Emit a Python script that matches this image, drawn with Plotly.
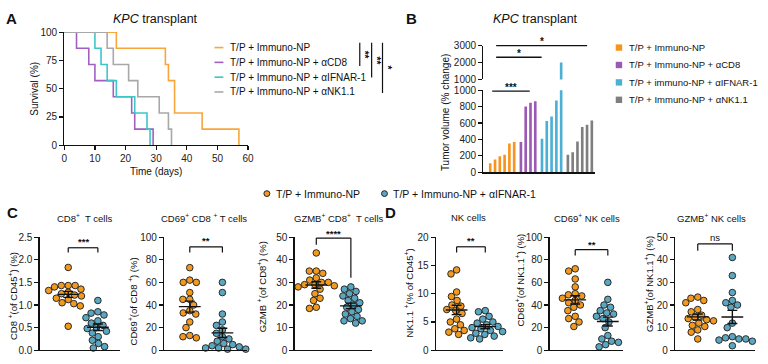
import numpy as np
import plotly.graph_objects as go

W, H = 768, 364
FONT = "Liberation Sans, Arial, Helvetica, sans-serif"

# ---------------- Panel A: survival (death times in days, n = 7 per group)
a_labels = ["T/P + Immuno-NP", "T/P + Immuno-NP + αCD8",
            "T/P + Immuno-NP + αIFNAR-1", "T/P + Immuno-NP + αNK1.1"]
a_death_orange = [17, 33, 34, 36, 36, 45, 57]
a_death_purple = [4, 8, 10, 16, 22, 23, 29]
a_death_cyan = [10, 12, 14, 17, 23, 27, 28]
a_death_gray = [14, 16, 21, 24, 31, 34, 35]
a_xticks = [0, 10, 20, 30, 40, 50, 60]
a_yticks = [0, 25, 50, 75, 100]
a_colors = ["#F9A53B", "#A25FC2", "#3DC6C6", "#A8A8A8"]

# ---------------- Panel B: tumour volume (% change)
b_labels = ["T/P + Immuno-NP", "T/P + Immuno-NP + αCD8",
            "T/P + immuno-NP + αIFNAR-1", "T/P + Immuno-NP + αNK1.1"]
b_orange = [110, 155, 195, 215, 350, 370]
b_purple = [370, 800, 845, 865]
b_blue = [410, 625, 680, 875, 2000]
b_gray = [215, 245, 375, 550, 580, 630]
b_low_ticks = [0, 200, 400, 600, 800, 1000]
b_up_ticks = [1000, 2000, 3000]
b_colors = ["#F7941D", "#9B59B6", "#4BB0D4", "#7F7F7F"]

# ---------------- Panels C / D: dot plots
sc_labels = ["T/P + Immuno-NP", "T/P + Immuno-NP + αIFNAR-1"]
cd8_orange = [1.83, 1.43, 1.43, 1.43, 1.40, 1.35, 1.32, 1.28, 1.25, 1.22, 1.20, 1.15, 1.12, 1.05, 1.03, 0.98, 0.53]
cd8_blue = [1.10, 0.85, 0.82, 0.78, 0.72, 0.65, 0.60, 0.55, 0.50, 0.48, 0.42, 0.38, 0.30, 0.22, 0.15, 0.08, 0.05]
cd69cd8_orange = [73, 62, 60, 60, 51, 45, 45, 40, 35, 33, 32, 25, 20, 13, 12, 11]
cd69cd8_blue = [60, 51, 32, 25, 22, 18, 15, 12, 10, 8, 6, 5, 4, 3, 2, 2, 1, 1]
gzmbcd8_orange = [43, 35, 35, 34, 32, 31, 30, 30, 29, 29, 28.5, 28, 27, 25, 23, 22, 19, 18.5]
gzmbcd8_blue = [28, 27, 26, 25, 24, 23, 22, 21, 20, 19, 18, 17, 16, 15, 14, 13, 13, 12]
nk_orange = [14.2, 13.5, 10.3, 9.5, 8.8, 8.0, 7.8, 7.2, 7.0, 6.5, 5.5, 5.0, 4.5, 3.8, 3.5, 3.2, 2.8]
nk_blue = [7.0, 6.8, 6.0, 5.5, 5.0, 4.8, 4.5, 4.2, 4.0, 3.8, 3.5, 3.3, 3.0, 2.8, 2.5, 2.2, 2.0]
cd69nk_orange = [72, 70, 63, 56, 50, 49, 48, 46, 44, 42, 40, 38, 35, 30, 28, 25, 21]
cd69nk_blue = [60, 45, 40, 38, 35, 33, 32, 30, 28, 25, 20, 13, 10, 8, 7, 5, 3]
gzmbnk_orange = [23.5, 23, 22, 21, 18, 17, 15.5, 14.5, 14, 13.5, 13, 12, 11, 10.5, 9, 8, 5]
gzmbnk_blue = [41, 33, 25.5, 22, 21, 20, 19, 12, 10, 6, 5.5, 5, 5, 4.5, 4, 2]

sc_titles = ["CD8<sup>+</sup>  T cells", "CD69<sup>+</sup> CD8 <sup>+</sup> T cells", "GZMB<sup>+</sup> CD8<sup>+</sup>  T cells",
             "NK cells", "CD69<sup>+</sup> NK cells", "GZMB<sup>+</sup> NK cells"]
sc_ytitles = ["CD8 <sup>+</sup>(of CD45<sup>+</sup>) (%)", "CD69<sup>+</sup>(of CD8 <sup>+</sup>) (%)",
              "GZMB <sup>+</sup>(of CD8<sup>+</sup>) (%)", "NK1.1 <sup>+</sup>(% of CD45<sup>+</sup>)",
              "CD69<sup>+</sup>(of NK1.1<sup>+</sup>) (%)", "GZMB<sup>+</sup>(of NK1.1<sup>+</sup>) (%)"]
sc_ymax = [2.5, 100, 50, 20, 100, 50]
sc_dtick = [0.5, 20, 10, 5, 20, 10]
sc_sig = ["***", "**", "****", "**", "**", "ns"]
sc_colors = ["#F39A1E", "#5AA7C2"]

# ---------------- helpers
def px(x):
    return x / W

def py(y):
    return 1 - y / H

def dom_x(a, b):
    return [a / W, b / W]

def dom_y(top, bottom):
    return [1 - bottom / H, 1 - top / H]

fig = go.Figure()
shapes = []
annotations = []

def text(x, y, s, size=10, xanchor="center", yanchor="middle", angle=0, bold=False, color="#111"):
    annotations.append(dict(x=px(x), y=py(y), xref="paper", yref="paper", text=("<b>%s</b>" % s) if bold else s,
                            showarrow=False, xanchor=xanchor, yanchor=yanchor, textangle=angle,
                            font=dict(family=FONT, size=size, color=color)))

def pline(x0, y0, x1, y1, w=1.2, color="#111"):
    shapes.append(dict(type="line", xref="paper", yref="paper", x0=px(x0), y0=py(y0), x1=px(x1), y1=py(y1),
                       line=dict(color=color, width=w)))

axis_common = dict(showline=True, linecolor="#111", linewidth=1.2, ticks="outside", ticklen=4, tickwidth=1.2,
                   tickcolor="#111", showgrid=False, zeroline=False,
                   tickfont=dict(family=FONT, size=10, color="#222"))

layout_axes = {}

# ================= Panel A
for deaths, col in zip([a_death_orange, a_death_purple, a_death_cyan, a_death_gray], a_colors):
    n = len(deaths)
    times = sorted(set(deaths))
    xs, ys = [0], [100]
    dead = 0
    for t in times:
        dead += deaths.count(t)
        xs.append(t)
        ys.append((n - dead) / n * 100)
    fig.add_trace(go.Scatter(x=xs, y=ys, mode="lines", line=dict(color=col, width=1.6, shape="hv"),
                             xaxis="x", yaxis="y", hoverinfo="skip"))

layout_axes["xaxis"] = dict(axis_common, domain=dom_x(62, 248), range=[0, 60], tickvals=a_xticks, anchor="y")
layout_axes["yaxis"] = dict(axis_common, domain=dom_y(27, 144), range=[0, 100], tickvals=a_yticks, anchor="x")

text(9, 13, "A", size=15, bold=True)
text(154, 13, "<i>KPC</i> transplant", size=12.5)
text(155, 171, "Time (days)", size=10)
text(32, 86, "Survival (%)", size=10, angle=-90)
for i, (lab, col) in enumerate(zip(a_labels, a_colors)):
    yy = 43 + i * 15.3
    pline(214, yy, 223, yy, w=1.6, color=col)
    text(228, yy, lab, size=10, xanchor="left")
# comparison brackets (vertical)
pline(361, 38, 361, 62)
text(366, 50, "**", size=10, angle=90, bold=True)
pline(373, 38, 373, 74)
text(378, 56, "**", size=10, angle=90, bold=True)
pline(384, 38, 384, 90)
text(389, 64, "*", size=10, angle=90, bold=True)

# ================= Panel B
b_groups = [b_orange, b_purple, b_blue, b_gray]
b_pos = []
start = 0.0
for g in b_groups:
    b_pos.append([start + i for i in range(len(g))])
    start += len(g) + 0.4
slot = 4.85
x_first = 493.0
b_range = [(486 - x_first) / slot, (599 - x_first) / slot]
for vals, pos, col in zip(b_groups, b_pos, b_colors):
    for xa, ya in (("x2", "y2"), ("x3", "y3")):
        fig.add_trace(go.Bar(x=pos, y=vals, width=0.55, marker=dict(color=col, line=dict(width=0)),
                             xaxis=xa, yaxis=ya, hoverinfo="skip"))

layout_axes["xaxis2"] = dict(axis_common, domain=dom_x(486, 599), range=b_range, ticks="", showticklabels=False,
                             anchor="y2")
layout_axes["yaxis2"] = dict(axis_common, domain=dom_y(87, 172), range=[0, 1000], tickvals=b_low_ticks, anchor="x2")
layout_axes["xaxis3"] = dict(domain=dom_x(486, 599), range=b_range, visible=False, anchor="y3")
layout_axes["yaxis3"] = dict(axis_common, domain=dom_y(41, 76), range=[1000, 3000], tickvals=b_up_ticks, anchor="x3")

text(413, 13, "B", size=15, bold=True)
text(539, 13, "<i>KPC</i> transplant", size=12.5)
text(448, 110, "Tumor volume (% change)", size=10, angle=-90)
for i, (lab, col) in enumerate(zip(b_labels, b_colors)):
    yy = 43 + i * 18
    shapes.append(dict(type="rect", xref="paper", yref="paper", x0=px(620), x1=px(626.5), y0=py(yy - 3.3),
                       y1=py(yy + 3.3), fillcolor=col, line=dict(width=0)))
    text(631, yy, lab, size=9.5, xanchor="left")
pline(495, 88, 533, 88, w=1.3)
text(514, 84, "***", size=10, bold=True)
pline(499, 53, 545, 53, w=1.3)
text(522, 49, "*", size=10, bold=True)
pline(499, 41, 591, 41, w=1.3)
text(545, 37, "*", size=10, bold=True)

# ================= middle legend
for cx, col, lab in ((267, sc_colors[0], sc_labels[0]), (386, sc_colors[1], sc_labels[1])):
    shapes.append(dict(type="circle", xref="paper", yref="paper", x0=px(cx - 3), x1=px(cx + 3), y0=py(194 + 3),
                       y1=py(194 - 3), fillcolor=col, line=dict(color="#222", width=1)))
    text(cx + 7, 194, lab, size=10.5, xanchor="left")

# ================= Panels C / D
sc_data = [(cd8_orange, cd8_blue), (cd69cd8_orange, cd69cd8_blue), (gzmbcd8_orange, gzmbcd8_blue),
           (nk_orange, nk_blue), (cd69nk_orange, cd69nk_blue), (gzmbnk_orange, gzmbnk_blue)]
# pixel layout: axis start, axis end, orange centre, blue centre
sc_geom = [(37, 118, 66, 96), (163, 247, 189, 222), (295, 373, 317, 352),
           (438, 506, 459, 488), (553, 627, 579, 612), (680, 761, 703, 738)]
sc_title_x = [83, 203, 340, 471, 591, 717]
sc_ytitle_x = [10, 131, 263, 411, 523, 653]
sc_ytitle_y = [300, 305, 290, 297, 283, 287]
sc_bracket = [(250, 255, 255, 244), (249, 255, 255, 243), (240, 247, 281, 235),
              (249, 255, 255, 243), (252, 258, 258, 247), (246, 253, 253, 239)]
Y_TOP, Y_BOT = 239, 356
D = 7.0


def swarm_offsets(vals, ppu, d):
    ys = np.asarray(vals, float) * ppu
    order = np.argsort(-ys, kind="stable")
    px_list, py_list = [], []
    xs = np.zeros(len(ys))
    for i in order:
        y = ys[i]
        cands = [0.0]
        for a, b in zip(px_list, py_list):
            dy = abs(y - b)
            if dy < d:
                dx = np.sqrt(d * d - dy * dy)
                cands += [a + dx, a - dx]
        cands.sort(key=lambda c: (round(abs(c), 6), c))
        for c in cands:
            if all((c - a) ** 2 + (y - b) ** 2 >= d * d - 1e-6 for a, b in zip(px_list, py_list)):
                xs[i] = c
                break
        px_list.append(xs[i])
        py_list.append(y)
    return xs


for k in range(6):
    ax_i = k + 4
    xa, ya = "x%d" % ax_i, "y%d" % ax_i
    a0, a1, c0, c1 = sc_geom[k]
    unit = c1 - c0
    ppu = (Y_BOT - Y_TOP) / sc_ymax[k]
    for g, (vals, col) in enumerate(zip(sc_data[k], sc_colors)):
        offs = swarm_offsets(vals, ppu, D)
        fig.add_trace(go.Scatter(x=g + offs / unit, y=vals, mode="markers", xaxis=xa, yaxis=ya,
                                 marker=dict(size=6.6, color=col, line=dict(color="#2a2a2a", width=1)),
                                 cliponaxis=False, hoverinfo="skip"))
        v = np.asarray(vals, float)
        m = v.mean()
        sem = v.std(ddof=1) / np.sqrt(len(v))
        hw, cw = 11 / unit, 5 / unit
        lx = [g - hw, g + hw, None, g, g, None, g - cw, g + cw, None, g - cw, g + cw]
        ly = [m, m, None, m - sem, m + sem, None, m + sem, m + sem, None, m - sem, m - sem]
        fig.add_trace(go.Scatter(x=lx, y=ly, mode="lines", line=dict(color="#111", width=1.4),
                                 xaxis=xa, yaxis=ya, hoverinfo="skip"))
    layout_axes["xaxis%d" % ax_i] = dict(axis_common, domain=dom_x(a0, a1),
                                         range=[(a0 - c0) / unit, (a1 - c0) / unit],
                                         ticks="", showticklabels=False, anchor=ya)
    layout_axes["yaxis%d" % ax_i] = dict(axis_common, domain=dom_y(Y_TOP, Y_BOT), range=[0, sc_ymax[k]],
                                         dtick=sc_dtick[k], tick0=0, anchor=xa,
                                         tickformat=".1f" if sc_ymax[k] < 5 else "d")
    text(sc_title_x[k], 219, sc_titles[k], size=9.5)
    text(sc_ytitle_x[k], sc_ytitle_y[k], sc_ytitles[k], size=9.5, angle=-90)
    top, lb, rb, ty = sc_bracket[k]
    pline(c0, lb, c0, top, w=1.2)
    pline(c0, top, c1, top, w=1.2)
    pline(c1, top, c1, rb, w=1.2)
    text((c0 + c1) / 2, ty, sc_sig[k], size=9.5, bold=(sc_sig[k] != "ns"))

text(10, 214, "C", size=15, bold=True)
text(392, 214, "D", size=15, bold=True)

fig.update_layout(width=W, height=H, margin=dict(l=0, r=0, t=0, b=0), paper_bgcolor="white",
                  plot_bgcolor="white", showlegend=False, barmode="overlay", hovermode=False,
                  shapes=shapes, annotations=annotations, font=dict(family=FONT, color="#111"),
                  **layout_axes)
fig.write_html("out.html", config={"displayModeBar": False, "staticPlot": True},
               post_script="document.body.style.margin='0px';document.body.style.padding='0px';")
